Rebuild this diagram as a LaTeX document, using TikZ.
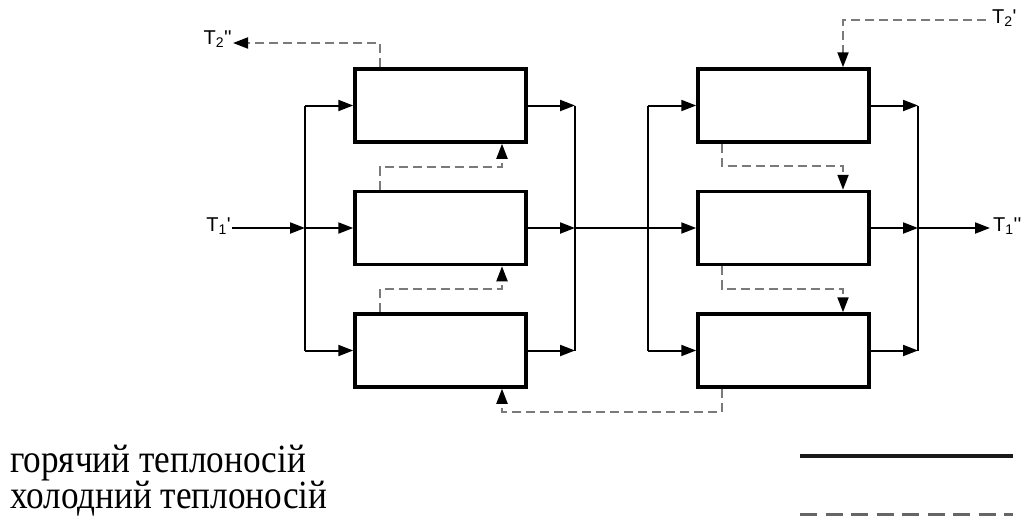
\documentclass[tikz,border=0pt]{standalone}
\usepackage{fontspec}
\setmainfont{Liberation Serif}
\newfontfamily\labelfont{Liberation Sans}
\newfontfamily\legendfont[FakeStretch=0.88]{Liberation Serif}
\usetikzlibrary{arrows.meta}
\definecolor{coldgray}{HTML}{7A7A7A}
\tikzset{
  unit/.style={draw=black, line width=3.5pt, minimum width=171pt, minimum height=73pt, inner sep=0pt},
  hot/.style={draw=black, line width=2pt},
  hotarrow/.style={hot, -{Triangle[length=15pt,width=11pt]}},
  cold/.style={draw=coldgray, line width=2pt, dash pattern=on 9pt off 5pt},
  coldarrow/.style={cold, -{Triangle[length=15pt,width=11pt,black]}},
  tlabel/.style={font=\labelfont\fontsize{20}{22}\selectfont, inner sep=0pt},
  legendtext/.style={font=\legendfont\fontsize{40}{44}\selectfont, inner sep=0pt, anchor=base west}
}
\begin{document}
\begin{tikzpicture}[x=1pt,y=-1pt]
\useasboundingbox (0,0) rectangle (1022,520);

% heat exchanger units
\node[unit] (L1) at (440.5,105.5) {};
\node[unit] (L2) at (440.5,228) {};
\node[unit] (L3) at (440.5,350.5) {};
\node[unit] (R1) at (783.5,105.5) {};
\node[unit] (R2) at (783.5,228) {};
\node[unit] (R3) at (783.5,350.5) {};

% distribution and collection buses of the hot stream
\coordinate (busLin) at (305,0);
\coordinate (busLout) at (575,0);
\coordinate (busRin) at (648,0);
\coordinate (busRout) at (918,0);

% end labels
\node[tlabel, anchor=east] (T1in) at (231,226) {T\textsubscript{1}'};
\node[tlabel, anchor=west] (T1out) at (993,226) {T\textsubscript{1}''};
\node[tlabel, anchor=east] (T2out) at (232,39) {T\textsubscript{2}''};
\node[tlabel, anchor=west] (T2in) at (992,18) {T\textsubscript{2}'};

% hot stream, first group
\draw[hot] (L1.west -| busLin) -- (L3.west -| busLin);
\draw[hotarrow] (T1in.east |- L2.west) ++(1,0) -- (L2.west -| busLin);
\draw[hotarrow] (L1.west -| busLin) -- (L1.west);
\draw[hotarrow] (L2.west -| busLin) -- (L2.west);
\draw[hotarrow] (L3.west -| busLin) -- (L3.west);
\draw[hot] (L1.east -| busLout) -- (L3.east -| busLout);
\draw[hotarrow] (L1.east) -- (L1.east -| busLout);
\draw[hotarrow] (L2.east) -- (L2.east -| busLout);
\draw[hotarrow] (L3.east) -- (L3.east -| busLout);

% hot stream, second group
\draw[hot] (R1.west -| busRin) -- (R3.west -| busRin);
\draw[hotarrow] (L2.east -| busLout) -- (R2.west);
\draw[hotarrow] (R1.west -| busRin) -- (R1.west);
\draw[hotarrow] (R3.west -| busRin) -- (R3.west);
\draw[hot] (R1.east -| busRout) -- (R3.east -| busRout);
\draw[hotarrow] (R1.east) -- (R1.east -| busRout);
\draw[hotarrow] (R2.east) -- (R2.east -| busRout);
\draw[hotarrow] (R3.east) -- (R3.east -| busRout);
\draw[hotarrow, shorten >=3pt] (R2.east -| busRout) -- (T1out.west |- R2.east);

% cold stream, counter-current through the units
\draw[coldarrow] (T2in.west |- 0,20) ++(-6,0) -- (843,20) -- (843,0 |- R1.north);
\draw[coldarrow] (722,0 |- R1.south) -- (722,166) -- (843,166) -- (843,0 |- R2.north);
\draw[coldarrow] (722,0 |- R2.south) -- (722,289) -- (843,289) -- (843,0 |- R3.north);
\draw[coldarrow] (722,0 |- R3.south) -- (722,412) -- (502,412) -- (502,0 |- L3.south);
\draw[coldarrow] (380,0 |- L3.north) -- (380,289) -- (502,289) -- (502,0 |- L2.south);
\draw[coldarrow] (380,0 |- L2.north) -- (380,167) -- (502,167) -- (502,0 |- L1.south);
\draw[coldarrow, shorten >=1pt] (380,0 |- L1.north) -- (380,43) -- (T2out.east |- 0,43);

% legend
\node[legendtext] (hotlbl) at (10,472) {горячий теплоносій};
\node[legendtext] (coldlbl) at (10,508) {холодний теплоносій};
\coordinate (hotA) at (800,456);
\coordinate (hotB) at (1013,456);
\coordinate (coldA) at (800,514);
\coordinate (coldB) at (1013,514);
\draw[draw=black!90, line width=4pt] (hotA) -- (hotB);
\draw[draw=black!60, line width=3pt, dash pattern=on 17pt off 8.5pt] (coldA) -- (coldB);
\end{tikzpicture}
\end{document}
